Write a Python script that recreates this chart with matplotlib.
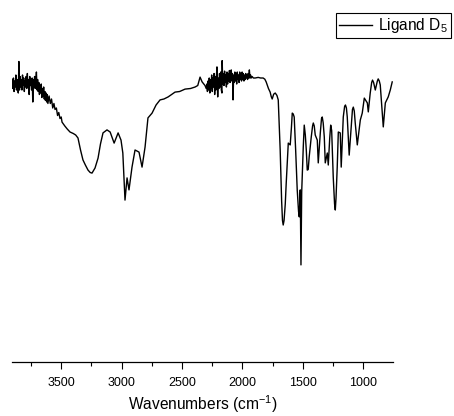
import numpy as np
import matplotlib
matplotlib.use("Agg")
import matplotlib.pyplot as plt

plt.rcParams['font.family'] = ['Liberation Sans', 'DejaVu Sans']
plt.rcParams['mathtext.fontset'] = 'custom'
plt.rcParams['mathtext.rm'] = 'Liberation Sans'
plt.rcParams['mathtext.it'] = 'Liberation Sans:italic'

# ---- data ----
wavenumber = [
    3905, 3900, 3895, 3890, 3885, 3880, 3875, 3870, 3865, 3860, 3855, 3850,
    3845, 3840, 3835, 3830, 3825, 3820, 3815, 3810, 3805, 3800, 3795, 3790,
    3785, 3780, 3775, 3770, 3765, 3760, 3755, 3750, 3745, 3740, 3735, 3730,
    3725, 3720, 3715, 3710, 3705, 3700, 3695, 3690, 3685, 3680, 3675, 3670,
    3665, 3660, 3655, 3650, 3645, 3640, 3635, 3630, 3625, 3620, 3615, 3610,
    3600, 3590, 3580, 3570, 3560, 3551, 3540, 3530, 3520, 3510, 3500, 3493,
    3470, 3450, 3427, 3400, 3380, 3361, 3340, 3320, 3300, 3278, 3260, 3245,
    3220, 3195, 3175, 3154, 3121, 3095, 3062, 3029, 3005, 2990, 2972, 2955,
    2939, 2914, 2889, 2856, 2831, 2806, 2782, 2748, 2715, 2682, 2650, 2615,
    2558, 2520, 2475, 2430, 2392, 2370, 2351, 2334, 2310,
    2300, 2295, 2290, 2285, 2280, 2275, 2270, 2265, 2260, 2255, 2250, 2245,
    2240, 2235, 2230, 2225, 2220, 2215, 2211, 2205, 2200, 2195, 2190, 2185,
    2180, 2175, 2170, 2168, 2163, 2158, 2153, 2148, 2143, 2138, 2133, 2128,
    2123, 2118, 2113, 2108, 2103, 2098, 2093, 2088, 2083, 2078, 2073, 2068,
    2063, 2058, 2053, 2048, 2043, 2038, 2033, 2028, 2023, 2018, 2013, 2008,
    2003, 1998, 1993, 1988, 1983, 1978, 1973, 1968, 1963, 1958, 1953, 1948,
    1943, 1938, 1933, 1928, 1920, 1910, 1895, 1870, 1850, 1829, 1815, 1804,
    1785, 1771, 1762, 1754, 1742, 1729, 1715, 1704, 1688, 1676, 1669, 1663,
    1656, 1646, 1638, 1621, 1605, 1595, 1588, 1580, 1572, 1560, 1547, 1536,
    1530, 1522, 1516, 1510, 1497, 1489, 1480, 1472, 1464, 1456, 1448, 1431,
    1420, 1414, 1406, 1398, 1381, 1373, 1356, 1346, 1340, 1332, 1323, 1315,
    1298, 1290, 1278, 1270, 1262, 1249, 1238, 1232, 1226, 1216, 1207, 1191,
    1183, 1166, 1155, 1148, 1140, 1133, 1117, 1100, 1090, 1083, 1075, 1067,
    1050, 1025, 1009, 992, 967, 959, 943, 931, 924, 915, 901, 884, 877, 868,
    860, 835, 818, 794, 777, 761,
]
transmittance = [
    94.5, 91.5, 95.0, 90.5, 94.0, 92.0, 96.0, 91.0, 94.5, 92.5, 90.0, 100.5,
    91.0, 95.5, 92.0, 94.5, 91.0, 96.0, 92.5, 95.0, 90.5, 94.0, 92.0, 95.5,
    91.5, 96.5, 92.0, 94.5, 89.5, 95.5, 92.5, 94.0, 91.0, 95.0, 87.0, 94.5,
    92.0, 95.5, 91.5, 94.0, 97.0, 91.0, 94.5, 90.5, 93.5, 89.5, 92.5, 90.0,
    93.0, 88.5, 91.5, 89.0, 92.0, 88.0, 90.5, 87.5, 90.0, 87.0, 89.5, 86.5,
    89.0, 86.5, 88.0, 85.0, 86.5, 84.5, 85.0, 82.5, 83.5, 81.5, 82.0, 80.3,
    79.0, 78.0, 77.0, 76.5, 76.0, 75.0, 71.0, 67.7, 66.0, 64.3, 63.5, 63.3,
    65.0, 68.3, 73.0, 76.7, 77.7, 77.0, 73.3, 76.7, 74.3, 70.0, 54.3, 61.7,
    57.7, 65.3, 71.0, 70.3, 65.3, 72.0, 81.7, 83.3, 86.0, 87.7, 88.0, 88.7,
    90.3, 90.5, 91.3, 91.5, 92.0, 92.5, 95.3, 93.7, 92.5,
    91.5, 93.0, 90.5, 94.0, 91.0, 95.0, 90.0, 94.5, 91.5, 96.0, 90.5, 95.0,
    92.0, 96.5, 89.5, 95.5, 91.0, 96.0, 98.7, 88.7, 95.0, 91.5, 96.5, 92.0,
    97.0, 91.0, 90.0, 100.8, 93.0, 96.5, 92.5, 97.3, 93.5, 96.0, 92.0, 97.0,
    93.0, 96.5, 94.0, 97.5, 93.5, 96.0, 97.7, 94.0, 96.5, 87.7, 96.0, 93.5,
    97.0, 94.0, 96.5, 93.0, 97.0, 94.5, 96.0, 93.5, 97.0, 94.5, 96.5, 94.0,
    97.0, 94.5, 96.5, 94.0, 96.0, 94.5, 96.5, 95.0, 96.0, 94.5, 96.5, 95.0,
    97.7, 95.0, 96.0, 95.0, 95.5, 95.0, 95.0, 95.2, 95.0, 95.0, 94.6, 93.7,
    91.5, 90.3, 88.8, 88.0, 89.6, 90.0, 89.2, 87.7, 71.0, 54.0, 47.5, 46.0,
    47.5, 53.0, 60.0, 73.3, 72.7, 78.5, 83.3, 83.0, 82.0, 71.0, 57.7, 50.5,
    48.7, 57.7, 32.7, 57.0, 72.0, 79.3, 76.0, 71.0, 64.3, 64.5, 68.7, 75.3,
    79.0, 80.0, 79.0, 76.0, 74.3, 66.7, 76.7, 81.5, 82.0, 80.0, 75.3, 66.7,
    70.0, 66.0, 75.0, 79.3, 77.5, 62.0, 53.0, 51.0, 55.0, 65.3, 77.0, 76.7,
    65.3, 82.0, 85.5, 86.0, 85.0, 82.0, 69.3, 78.7, 84.5, 85.3, 84.0, 80.0,
    72.7, 81.0, 83.3, 88.3, 86.7, 83.7, 90.0, 93.5, 94.3, 93.5, 91.0, 94.0,
    94.7, 94.0, 92.7, 78.7, 86.7, 88.7, 91.0, 93.7,
]
major_ticks = [3500, 3000, 2500, 2000, 1500, 1000]
minor_ticks = [3750, 3250, 2750, 2250, 1750, 1250]
series_label = "Ligand D$_5$"
x_label = "Wavenumbers (cm$^{-1}$)"

fig = plt.figure(figsize=(4.54, 4.16), dpi=100)
ax = fig.add_axes([12 / 454, 54 / 416, 380.7 / 454, 352 / 416])
line, = ax.plot(wavenumber, transmittance, color='black', lw=1.0)

ax.set_xlim(3907, 757)
ax.set_ylim(0.33, 117.67)
ax.set_xticks(major_ticks)
ax.set_xticks(minor_ticks, minor=True)
ax.tick_params(axis='x', which='major', direction='out', length=5, width=0.8,
               labelsize=9, pad=6)
ax.tick_params(axis='x', which='minor', direction='out', length=3, width=0.8)
ax.set_yticks([])
for s in ['left', 'right', 'top']:
    ax.spines[s].set_visible(False)
ax.spines['bottom'].set_linewidth(0.9)
ax.set_xlabel(x_label, fontsize=11.2, labelpad=3)

leg = fig.legend([line], [series_label], loc='upper right',
                 bbox_to_anchor=(451 / 454, 1 - 13 / 416), fontsize=11.2,
                 frameon=True, fancybox=False, framealpha=1, edgecolor='black',
                 handlelength=2.1, handletextpad=0.4, borderpad=0.2,
                 borderaxespad=0)
leg.get_frame().set_linewidth(0.8)

fig.savefig("out.png", dpi=100)
